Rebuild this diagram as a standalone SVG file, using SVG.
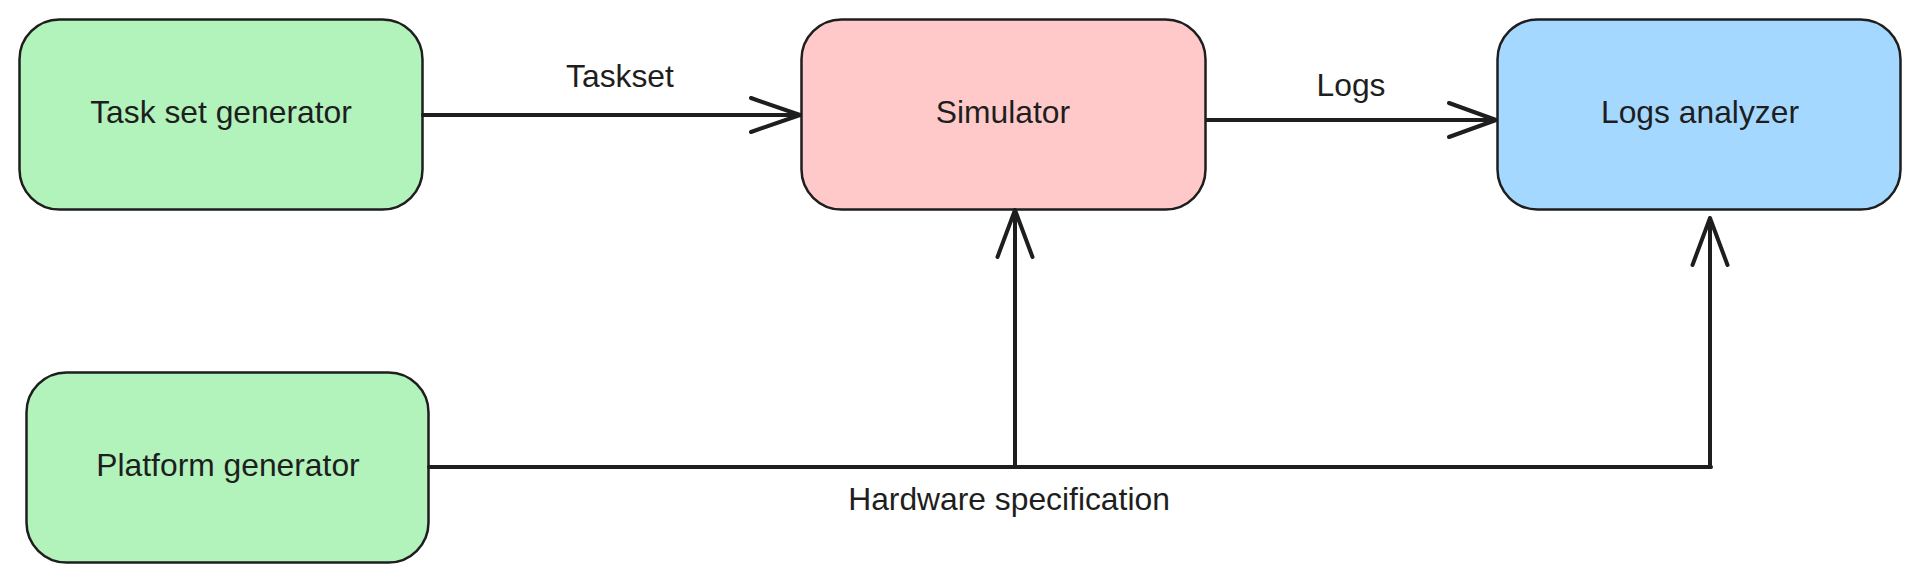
<svg xmlns="http://www.w3.org/2000/svg" width="1922" height="583" viewBox="0 0 1922 583">
<style>
.node rect{stroke:#1e1e1e;stroke-width:2.5}
.green{fill:#b2f2bb}.pink{fill:#ffc9c9}.blue{fill:#a5d8ff}
text{font-family:"Liberation Sans",Arial,sans-serif;font-size:31.8px;fill:#1e1e1e;text-anchor:middle}
.edge{stroke:#1e1e1e;stroke-width:4;fill:none;stroke-linecap:round;stroke-linejoin:round}
</style>
<rect width="1922" height="583" fill="#ffffff"/>
<g id="taskset-generator" class="node"><rect class="green" x="19.5" y="19.5" width="403" height="190" rx="40"/><text x="221" y="123">Task set generator</text></g>
<g id="simulator" class="node"><rect class="pink" x="801.5" y="19.5" width="404" height="190" rx="40"/><text x="1003" y="123">Simulator</text></g>
<g id="logs-analyzer" class="node"><rect class="blue" x="1497.5" y="19.5" width="403" height="190" rx="40"/><text x="1700" y="123">Logs analyzer</text></g>
<g id="platform-generator" class="node"><rect class="green" x="26.5" y="372.5" width="402" height="190" rx="40"/><text x="228" y="476">Platform generator</text></g>
<g id="connectors">
<path class="edge" d="M423 115 H800 M751 98 L800 115 L751 132"/>
<text x="620" y="87">Taskset</text>
<path class="edge" d="M1207 120 H1496 M1449 103 L1496 120 L1449 137"/>
<text x="1351" y="96">Logs</text>
<path class="edge" d="M429 467 H1711"/>
<path class="edge" d="M1015 467 V210 M997.5 257 L1015 210 L1032.5 257"/>
<path class="edge" d="M1710 467 V218 M1692.5 265 L1710 218 L1727.5 265"/>
<text x="1009" y="510">Hardware specification</text>
</g>
</svg>
